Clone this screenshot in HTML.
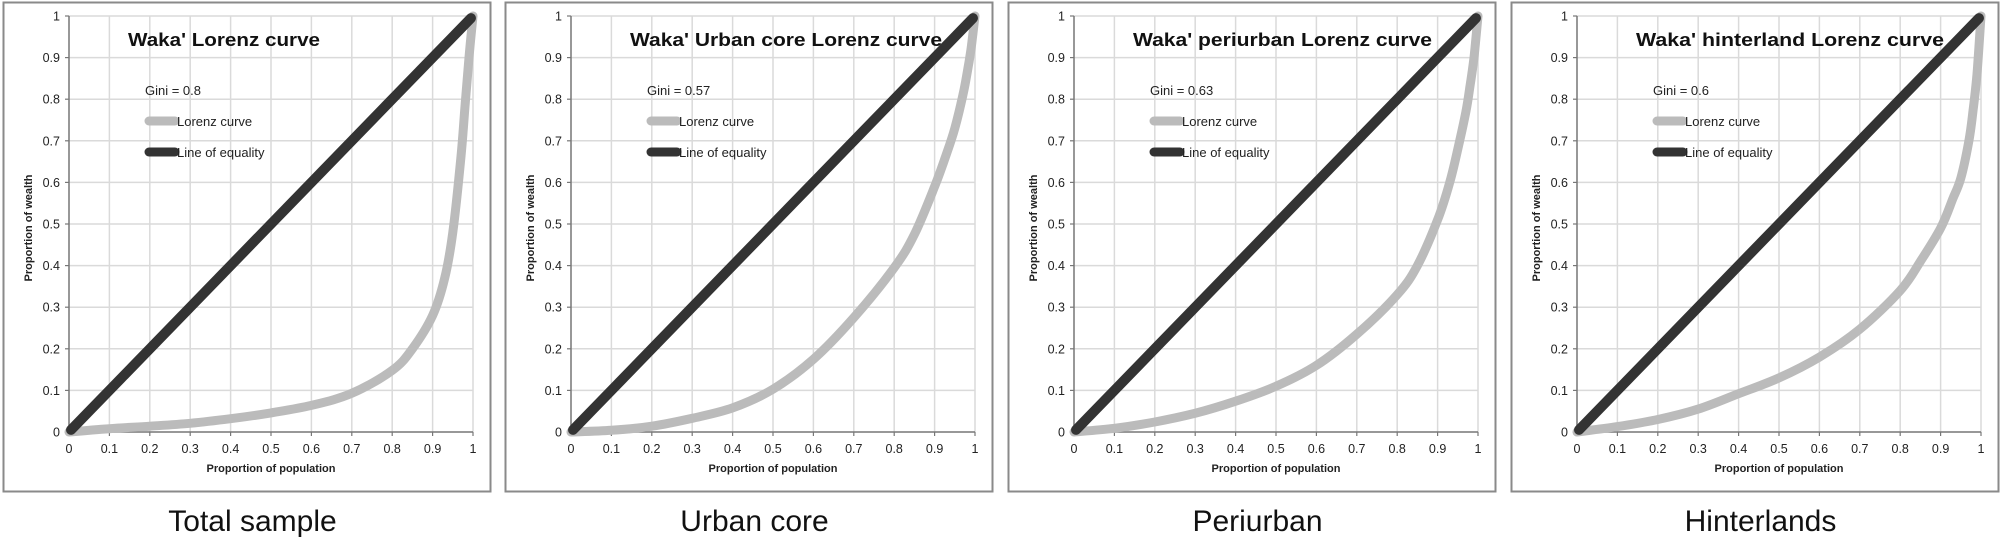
<!DOCTYPE html>
<html><head><meta charset="utf-8"><style>
html,body{margin:0;padding:0;background:#fff;}
svg{display:block;font-family:"Liberation Sans",sans-serif;}
</style></head><body>
<svg id="c" width="2002" height="540" viewBox="0 0 2002 540"></svg>
<script>
const panelTitles = ["Waka' Lorenz curve","Waka' Urban core Lorenz curve","Waka' periurban Lorenz curve","Waka' hinterland Lorenz curve"];
const titleWidths = [192,312,299,308];
const captions = ["Total sample","Urban core","Periurban","Hinterlands"];
const giniLabels = ["Gini = 0.8","Gini = 0.57","Gini = 0.63","Gini = 0.6"];
const lorenzX = [0,0.1,0.2,0.3,0.4,0.5,0.6,0.7,0.8,0.85,0.9,0.93,0.95,0.97,0.98,0.99,1];
const lorenzTotal = [0,0.008,0.014,0.021,0.032,0.046,0.064,0.093,0.148,0.2,0.28,0.37,0.48,0.66,0.78,0.9,1];
const lorenzUrban = [0,0.004,0.014,0.033,0.058,0.103,0.175,0.275,0.395,0.475,0.59,0.67,0.73,0.81,0.86,0.92,1];
const lorenzPeri = [0,0.009,0.024,0.045,0.074,0.11,0.16,0.235,0.33,0.4,0.51,0.6,0.68,0.77,0.83,0.9,1];
const lorenzHinter = [0,0.013,0.03,0.055,0.092,0.13,0.18,0.247,0.34,0.41,0.49,0.56,0.61,0.7,0.77,0.86,1];
const lorenzSeries = [lorenzTotal,lorenzUrban,lorenzPeri,lorenzHinter];
const tickVals = [0,0.1,0.2,0.3,0.4,0.5,0.6,0.7,0.8,0.9,1];
const tickLabels = ["0","0.1","0.2","0.3","0.4","0.5","0.6","0.7","0.8","0.9","1"];

const NS="http://www.w3.org/2000/svg";
const svg=document.getElementById('c');
function mk(tag,attrs,parent){const e=document.createElementNS(NS,tag);for(const k in attrs)e.setAttribute(k,attrs[k]);(parent||svg).appendChild(e);return e;}
function smooth(pts){
  let d='M'+pts[0][0].toFixed(1)+','+pts[0][1].toFixed(1);
  for(let i=0;i<pts.length-1;i++){
    const p0=pts[Math.max(0,i-1)],p1=pts[i],p2=pts[i+1],p3=pts[Math.min(pts.length-1,i+2)];
    const c1=[p1[0]+(p2[0]-p0[0])/6,p1[1]+(p2[1]-p0[1])/6];
    const c2=[p2[0]-(p3[0]-p1[0])/6,p2[1]-(p3[1]-p1[1])/6];
    d+=' C'+c1[0].toFixed(1)+','+c1[1].toFixed(1)+' '+c2[0].toFixed(1)+','+c2[1].toFixed(1)+' '+p2[0].toFixed(1)+','+p2[1].toFixed(1);
  }
  return d;
}
const panelLeft=[3,505,1008,1511];
const PW=487, AX=66, PLW=404, YT=16, YB=432;

panelLeft.forEach((L,i)=>{
  const g=mk('g',{});
  
  
  const fr=mk('rect',{x:L+0.5,y:2.5,width:PW,height:489,fill:'#fff',stroke:'#8a8a8a','stroke-width':2},g);
  
  
  const x0=L+AX;
  const sx=v=>x0+v*PLW;
  const sy=v=>YB-v*(YB-YT);
  tickVals.forEach((t,k)=>{
    if(k>0){
      const gl=mk('line',{x1:sx(t),x2:sx(t),y1:YT,y2:YB,stroke:'#dadada','stroke-width':1.5},g);
      
      
      const hl=mk('line',{x1:x0,x2:sx(1),y1:sy(t),y2:sy(t),stroke:'#dadada','stroke-width':1.5},g);
      
      
    }
    const xt=mk('line',{x1:sx(t),x2:sx(t),y1:YB,y2:YB+4,stroke:'#777','stroke-width':1.2},g);
    
    
    const yt=mk('line',{x1:x0-4,x2:x0,y1:sy(t),y2:sy(t),stroke:'#777','stroke-width':1.2},g);
    
    
    const xl=mk('text',{x:sx(t),y:453,'font-size':12.5,fill:'#222','text-anchor':'middle'},g);
    xl.textContent=tickLabels[k];
    
    
    const yl=mk('text',{x:x0-9,y:sy(t)+4.5,'font-size':12.5,fill:'#222','text-anchor':'end'},g);
    yl.textContent=tickLabels[k];
    
    
  });
  const ax=mk('line',{x1:x0,x2:x0,y1:YT,y2:YB,stroke:'#777','stroke-width':1.5},g);
  
  
  const ay=mk('line',{x1:x0,x2:sx(1),y1:YB,y2:YB,stroke:'#777','stroke-width':1.5},g);
  
  
  const pts=lorenzX.map((x,k)=>[sx(x),sy(lorenzSeries[i][k])]);
  const lc=mk('path',{d:smooth(pts),fill:'none',stroke:'#bbbbbb','stroke-width':9,'stroke-linejoin':'round','stroke-linecap':'round'},g);
  
  
  const eq=mk('line',{x1:sx(0.005),y1:sy(0.005),x2:sx(0.995),y2:sy(0.995),stroke:'#333','stroke-width':10,'stroke-linecap':'round'},g);
  
  
  const ti=mk('text',{x:L+125,y:46,'font-size':18,'font-weight':'bold',fill:'#111',textLength:titleWidths[i],lengthAdjust:'spacingAndGlyphs'},g);
  ti.textContent=panelTitles[i];
  
  
  const gi=mk('text',{x:L+142,y:95,'font-size':13,fill:'#222'},g);
  gi.textContent=giniLabels[i];
  
  
  const l1=mk('line',{x1:L+146,x2:L+172,y1:121,y2:121,stroke:'#bbbbbb','stroke-width':9,'stroke-linecap':'round'},g);
  
  
  const t1=mk('text',{x:L+174,y:126,'font-size':13,fill:'#222'},g);
  t1.textContent='Lorenz curve';
  
  
  const l2=mk('line',{x1:L+146,x2:L+172,y1:152,y2:152,stroke:'#333','stroke-width':9,'stroke-linecap':'round'},g);
  
  
  const t2=mk('text',{x:L+174,y:157,'font-size':13,fill:'#222'},g);
  t2.textContent='Line of equality';
  
  
  const xa=mk('text',{x:sx(0.5),y:472,'font-size':11,'font-weight':'bold',fill:'#222','text-anchor':'middle'},g);
  xa.textContent='Proportion of population';
  
  
  const ya=mk('text',{x:0,y:0,'font-size':11,'font-weight':'bold',fill:'#222','text-anchor':'middle',transform:`translate(${L+29},${sy(0.5)+4}) rotate(-90)`},g);
  ya.textContent='Proportion of  wealth';
  
  
  const cp=mk('text',{x:L+PW/2+6,y:531,'font-size':30,fill:'#111','text-anchor':'middle'},g);
  cp.textContent=captions[i];
  
  
});
</script>
</body></html>
